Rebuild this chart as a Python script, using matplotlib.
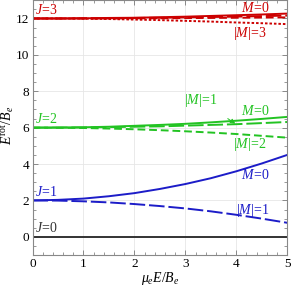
import matplotlib
matplotlib.use("Agg")
import matplotlib.pyplot as plt
from matplotlib.ticker import MultipleLocator

plt.rcParams['font.family'] = ['Liberation Serif', 'DejaVu Serif']
plt.rcParams['mathtext.fontset'] = 'custom'
plt.rcParams['mathtext.rm'] = 'Liberation Serif'
plt.rcParams['mathtext.it'] = 'Liberation Serif:italic'

field = [0.0, 0.5, 1.0, 1.5, 2.0, 2.5, 3.0, 3.5, 4.0, 4.5, 5.0]
j0 = [0.0] * 11
j1_m0 = [2.0, 2.03, 2.1, 2.23, 2.4, 2.63, 2.9, 3.22, 3.6, 4.03, 4.5]
j1_m1 = [2.0, 1.99, 1.95, 1.89, 1.8, 1.69, 1.56, 1.4, 1.21, 1.0, 0.77]
j2_m0 = [6.0, 6.01, 6.02, 6.05, 6.1, 6.15, 6.21, 6.29, 6.38, 6.48, 6.59]
j2_m1 = [6.0, 6.0, 6.01, 6.03, 6.05, 6.07, 6.11, 6.15, 6.19, 6.25, 6.31]
j2_m2 = [6.0, 5.99, 5.98, 5.95, 5.91, 5.86, 5.8, 5.73, 5.65, 5.55, 5.45]
j3_m0 = [12.0, 12.0, 12.01, 12.03, 12.04, 12.07, 12.1, 12.14, 12.18, 12.22, 12.27]
j3_m1 = [12.0, 12.0, 12.01, 12.01, 12.03, 12.04, 12.06, 12.08, 12.1, 12.13, 12.16]
j3_m2 = [12.0, 12.0, 12.0, 12.0, 12.01, 12.01, 12.02, 12.03, 12.04, 12.05, 12.06]
j3_m3 = [12.0, 12.0, 11.99, 11.97, 11.94, 11.91, 11.87, 11.83, 11.78, 11.74, 11.69]

red = '#cc0000'
green = '#22c322'
blue = '#1c1cc8'
black = '#333333'

fig = plt.figure(figsize=(2.91, 2.88), dpi=100)
ax = fig.add_axes([0.1117, 0.1146, 0.8753, 0.8844])

lw = 1.4
ax.plot(field, j0, color=black, lw=lw)
ax.plot(field, j1_m0, color=blue, lw=lw)
ax.plot(field, j1_m1, color=blue, lw=lw, dashes=(8, 2))
ax.plot(field, j2_m0, color=green, lw=lw)
ax.plot(field, j2_m1, color=green, lw=lw, dashes=(8, 2))
ax.plot(field, j2_m2, color=green, lw=lw, dashes=(4, 2))
ax.plot(field, j3_m0, color=red, lw=lw)
ax.plot(field, j3_m1, color=red, lw=lw, dashes=(8, 2))
ax.plot(field, j3_m2, color=red, lw=lw, dashes=(4, 2))
ax.plot(field, j3_m3, color=red, lw=lw, dashes=(1.3, 1.0))

ax.set_xlim(0, 5)
ax.set_ylim(-1, 13)
ax.xaxis.set_major_locator(MultipleLocator(1))
ax.xaxis.set_minor_locator(MultipleLocator(0.2))
ax.yaxis.set_major_locator(MultipleLocator(2))
ax.yaxis.set_minor_locator(MultipleLocator(0.5))
ax.grid(True, which='major', color='#e6e6e6', lw=0.6)
ax.set_axisbelow(True)
for s in ax.spines.values():
    s.set_color('#888888')
    s.set_linewidth(0.8)
ax.tick_params(which='both', direction='in', top=True, right=True, color='#888888', labelsize=9.5, pad=2.5)
ax.tick_params(which='major', length=3.5, width=0.7)
ax.tick_params(which='minor', length=2, width=0.6)

ax.set_xlabel(r'$\mu_e E/B_e$', fontsize=10)
ax.set_ylabel(r'$E^{\rm rot}/B_e$', fontsize=10)
ax.xaxis.set_label_coords(0.5, -0.06)
ax.yaxis.set_label_coords(-0.063, 0.51)

fs = 10
ax.text(0.05, 12.1, r'$J\!=\!3$', color=red, fontsize=fs, va='bottom')
ax.text(0.05, 6.08, r'$J\!=\!2$', color=green, fontsize=fs, va='bottom')
ax.text(0.05, 2.08, r'$J\!=\!1$', color=blue, fontsize=fs, va='bottom')
ax.text(0.05, 0.08, r'$J\!=\!0$', color=black, fontsize=fs, va='bottom')

ax.text(4.37, 12.6, r'$M\!=\!0$', color=red, fontsize=fs, ha='center', va='center')
ax.text(4.27, 11.2, r'$|M|\!=\!3$', color=red, fontsize=fs, ha='center', va='center')
ax.text(4.37, 6.9, r'$M\!=\!0$', color=green, fontsize=fs, ha='center', va='center')
ax.text(4.27, 5.1, r'$|M|\!=\!2$', color=green, fontsize=fs, ha='center', va='center')
ax.text(4.37, 3.42, r'$M\!=\!0$', color=blue, fontsize=fs, ha='center', va='center')
ax.text(4.33, 1.45, r'$|M|\!=\!1$', color=blue, fontsize=fs, ha='center', va='center')
ax.annotate(r'$|M|\!=\!1$', xy=(3.98, 6.22), xytext=(3.3, 7.5), color=green, fontsize=fs,
            ha='center', va='center',
            arrowprops=dict(arrowstyle='-|>', color=green, lw=0.7, shrinkA=9, shrinkB=0,
                            mutation_scale=7))

fig.savefig('out.png', dpi=100)
